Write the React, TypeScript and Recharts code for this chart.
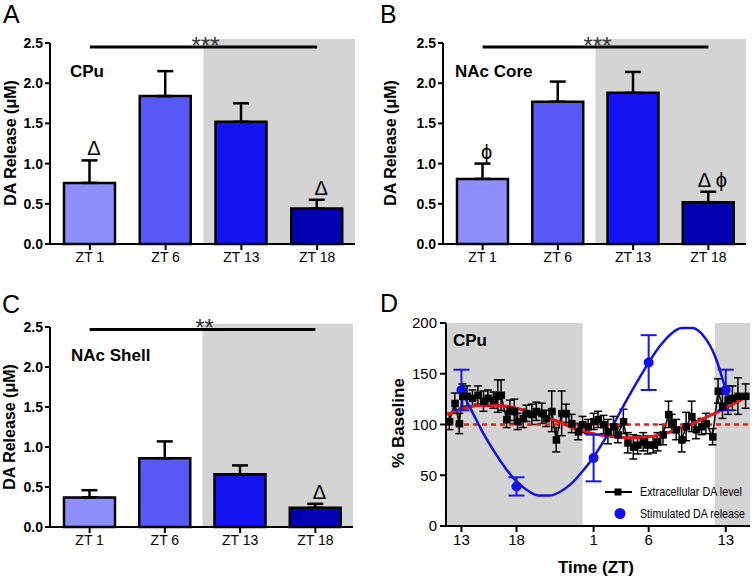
import React from 'react';
import {
  ComposedChart, Bar, Cell, XAxis, YAxis, ErrorBar, ReferenceArea, ReferenceLine, Line, Scatter,
} from 'recharts';

const FONT = '"Liberation Sans", Arial, Helvetica, sans-serif';

// ---- Panels A-C data ----
const zeitgeberCategories = ['ZT 1', 'ZT 6', 'ZT 13', 'ZT 18'];
const barColors = ['#8e8eff', '#5858f7', '#1414f2', '#0202b4'];
const barTicks = [0, 0.5, 1, 1.5, 2, 2.5];

const cpuMeans = [0.76, 1.84, 1.52, 0.44];
const cpuSem = [0.28, 0.31, 0.23, 0.11];
const cpuMarks = ['Δ', '', '', 'Δ'];
const cpuSigText = '***';
const cpuSigY = 2.45;

const coreMeans = [0.81, 1.77, 1.88, 0.52];
const coreSem = [0.19, 0.25, 0.26, 0.13];
const coreMarks = ['ϕ', '', '', 'Δ ϕ'];
const coreSigText = '***';
const coreSigY = 2.45;

const shellMeans = [0.37, 0.86, 0.66, 0.24];
const shellSem = [0.09, 0.21, 0.11, 0.05];
const shellMarks = ['', '', '', 'Δ'];
const shellSigText = '**';
const shellSigY = 2.47;

// ---- Panel D data ----
const timeTicks = [13, 18, 25, 30, 37];
const timeDomain = [11.6, 39.2];
const pctTicks = [0, 50, 100, 150, 200];

const extracellularHours = [11.9, 12.4, 12.8, 13.1, 13.5, 14.0, 14.5, 15.0, 15.4, 15.9, 16.3, 16.6, 17.1, 17.4, 17.8, 18.1, 18.6, 18.9, 19.4, 19.8, 20.3, 20.7, 21.2, 21.6, 22.1, 22.5, 23.0, 23.6, 24.0, 24.5, 25.0, 25.4, 25.9, 26.3, 26.8, 27.2, 27.7, 28.1, 28.6, 29.0, 29.5, 29.9, 30.4, 30.8, 31.3, 31.8, 32.1, 32.5, 33.0, 33.4, 33.9, 34.3, 34.8, 35.2, 35.8, 36.3, 36.7, 37.2, 37.6, 38.1, 38.8];
const extracellularPct = [103, 121, 101, 128, 128, 126, 129, 123, 126, 124, 128, 129, 105, 114, 113, 103, 106, 111, 110, 113, 111, 106, 113, 85, 111, 111, 101, 93, 100, 98, 103, 105, 100, 93, 98, 90, 103, 82, 78, 80, 83, 80, 80, 83, 90, 110, 101, 95, 85, 98, 108, 95, 98, 101, 88, 133, 118, 124, 126, 128, 128];
const extracellularSem = [8, 10, 10, 12, 10, 8, 9, 10, 8, 8, 16, 15, 8, 10, 12, 8, 9, 8, 10, 9, 10, 8, 20, 12, 22, 9, 9, 8, 8, 7, 8, 8, 9, 12, 10, 8, 12, 10, 12, 9, 9, 9, 8, 9, 10, 13, 9, 10, 12, 14, 15, 9, 8, 10, 8, 12, 12, 14, 12, 18, 12];

const extracellularFitHours = [11.7, 13, 14, 15, 16, 17, 18, 19, 20, 21, 22, 23, 24, 25, 26, 27, 28, 29, 30, 31, 32, 33, 34, 35, 36, 37, 38, 39];
const extracellularFitPct = [110, 115, 118, 119, 119, 118, 116, 113, 110, 106, 102, 97, 94, 91, 89, 88, 87, 87, 88, 90, 93, 97, 101, 106, 111, 116, 122, 128];

const stimulatedHours = [13, 18, 25, 30, 37];
const stimulatedPct = [134, 39, 67, 161, 134];
const stimulatedSem = [20, 9, 23, 27, 20];

const stimulatedFitHours = [13, 14, 15, 16, 17, 18, 19, 20, 21, 22, 23, 24, 25, 26, 27, 28, 29, 30, 31, 32, 33, 34, 35, 36, 37];
const stimulatedFitPct = [133, 112, 91, 73, 57, 44, 35, 30, 30, 34, 42, 54, 68, 85, 104, 124, 143, 161, 177, 189, 195, 195, 187, 168, 134];

// ---- helpers ----
const renderMark = (p: any) => {
  const m = p?.payload?.mark;
  if (!m || p.cx == null || p.cy == null) return <g key={`m${p?.index}`} />;
  return (
    <text key={`m${p.index}`} x={p.cx + 4} y={p.cy - 5} textAnchor="middle" fontSize={20}
      fill="#000" fontFamily={FONT}>{m}</text>
  );
};

const renderSquare = (p: any) => {
  if (p.cx == null || p.cy == null) return <g key={`s${p.index}`} />;
  return <rect key={`s${p.index}`} x={p.cx - 3.5} y={p.cy - 3.5} width={7.5} height={7.5} fill="#000" />;
};

const renderBlueDot = (p: any) => (
  <circle cx={p.cx} cy={p.cy} r={5} fill="#1010f0" />
);

type PanelPos = {
  left: number; top: number; width: number; height: number;
  mTop: number; mRight: number; yw: number; xh: number; pad: number;
};

function BarPanel(props: {
  pos: PanelPos; means: number[]; sem: number[]; marks: string[];
  sigText: string; sigY: number; shadeTop: number;
}) {
  const { pos, means, sem, marks, sigText, sigY, shadeTop } = props;
  const data = zeitgeberCategories.map((c, i) => ({
    cat: c, mean: means[i], err: [0, sem[i]], top: means[i] + sem[i], mark: marks[i],
  }));
  const sigLabel = (lp: any) => {
    const vb = lp?.viewBox || {};
    const cx = (vb.x ?? 0) + (vb.width ?? 0) / 2 + 2;
    const y = (vb.y ?? 0) + 7;
    return (
      <text x={cx} y={y} textAnchor="middle" fontSize={24} fill="#333" fontFamily={FONT}>{sigText}</text>
    );
  };
  return (
    <div style={{ position: 'absolute', left: pos.left, top: pos.top }}>
      <ComposedChart width={pos.width} height={pos.height} data={data}
        margin={{ top: pos.mTop, right: pos.mRight, bottom: 0, left: 0 }}>
        <ReferenceArea x1="ZT 13" x2="ZT 18" y1={0} y2={shadeTop} fill="#d4d4d4" fillOpacity={1}
          stroke="none" ifOverflow="visible" />
        <XAxis dataKey="cat" height={pos.xh} padding={{ left: pos.pad, right: 0 }} interval={0}
          axisLine={{ stroke: '#000', strokeWidth: 2 }} tickLine={{ stroke: '#000', strokeWidth: 2 }}
          tickSize={6} tick={{ fill: '#000', fontSize: 14, fontFamily: FONT }} />
        <YAxis width={pos.yw} domain={[0, 2.5]} ticks={barTicks} interval={0}
          tickFormatter={(v: number) => v.toFixed(1)}
          axisLine={{ stroke: '#000', strokeWidth: 2 }} tickLine={{ stroke: '#000', strokeWidth: 2 }}
          tickSize={5} tickMargin={2}
          tick={{ fill: '#000', fontSize: 14, fontWeight: 'bold', fontFamily: FONT }} />
        <Bar dataKey="mean" barSize={51} stroke="#000" strokeWidth={2.5} isAnimationActive={false}>
          {data.map((d, i) => <Cell key={d.cat} fill={barColors[i]} />)}
          <ErrorBar dataKey="err" width={8} stroke="#000" strokeWidth={2.5} direction="y" />
        </Bar>
        <Line dataKey="top" stroke="none" isAnimationActive={false} dot={renderMark}
          activeDot={false} legendType="none" />
        <ReferenceLine segment={[{ x: 'ZT 1', y: sigY }, { x: 'ZT 18', y: sigY }]} stroke="#000"
          strokeWidth={3} ifOverflow="visible" label={sigLabel} />
      </ComposedChart>
    </div>
  );
}

function TimePanel() {
  const extraData = extracellularHours.map((h, i) => ({ h, v: extracellularPct[i], e: extracellularSem[i] }));
  const extraFit = extracellularFitHours.map((h, i) => ({ h, v: extracellularFitPct[i] }));
  const stimData = stimulatedHours.map((h, i) => ({ h, v: stimulatedPct[i], e: stimulatedSem[i] }));
  const stimFit = stimulatedFitHours.map((h, i) => ({ h, v: stimulatedFitPct[i] }));
  return (
    <div style={{ position: 'absolute', left: 378, top: 290 }}>
      <ComposedChart width={377} height={287} margin={{ top: 33, right: 5, bottom: 0, left: 0 }}>
        <ReferenceArea x1={timeDomain[0]} x2={24} y1={0} y2={200} fill="#d4d4d4" fillOpacity={1} stroke="none" />
        <ReferenceArea x1={36} x2={timeDomain[1]} y1={0} y2={200} fill="#d4d4d4" fillOpacity={1} stroke="none" />
        <XAxis type="number" dataKey="h" domain={timeDomain} ticks={timeTicks} allowDataOverflow
          interval={0} tickFormatter={(h: number) => String(h > 24 ? h - 24 : h)} height={51}
          axisLine={{ stroke: '#000', strokeWidth: 2 }} tickLine={{ stroke: '#000', strokeWidth: 2 }}
          tickSize={6} tick={{ fill: '#000', fontSize: 15, fontFamily: FONT }} />
        <YAxis type="number" dataKey="v" domain={[0, 200]} ticks={pctTicks} width={68} interval={0}
          axisLine={{ stroke: '#000', strokeWidth: 2 }} tickLine={{ stroke: '#000', strokeWidth: 2 }}
          tickSize={6} tickMargin={3} tick={{ fill: '#000', fontSize: 15, fontFamily: FONT }} />
        <Line data={extraData} dataKey="v" type="linear" stroke="#000" strokeWidth={1.5}
          dot={renderSquare} activeDot={false} isAnimationActive={false}>
          <ErrorBar dataKey="e" width={4} stroke="#000" strokeWidth={1.5} direction="y" />
        </Line>
        <ReferenceLine y={100} stroke="#ee1c1c" strokeWidth={2.5} strokeDasharray="5 4" />
        <Line data={extraFit} dataKey="v" type="monotone" stroke="#e8141c" strokeWidth={3}
          dot={false} activeDot={false} isAnimationActive={false} />
        <Line data={stimFit} dataKey="v" type="monotone" stroke="#1010ee" strokeWidth={2.5}
          dot={false} activeDot={false} isAnimationActive={false} />
        <Scatter data={stimData} dataKey="v" shape={renderBlueDot} isAnimationActive={false}>
          <ErrorBar dataKey="e" width={8} stroke="#1515ee" strokeWidth={2} direction="y" />
        </Scatter>
      </ComposedChart>
    </div>
  );
}

const posA: PanelPos = { left: 0, top: 0, width: 378, height: 290, mTop: 43, mRight: 23, yw: 50, xh: 46, pad: 2 };
const posB: PanelPos = { left: 378, top: 0, width: 377, height: 290, mTop: 43, mRight: 9, yw: 65, xh: 46, pad: 2 };
const posC: PanelPos = { left: 0, top: 290, width: 378, height: 287, mTop: 37, mRight: 25, yw: 50, xh: 50, pad: 2 };

function Overlay() {
  const bold = { fontFamily: FONT, fontWeight: 'bold' as const, fill: '#000' };
  const letter = { fontFamily: FONT, fontSize: 25, fill: '#000' };
  return (
    <svg width={755} height={577} style={{ position: 'absolute', left: 0, top: 0, pointerEvents: 'none' }}>
      <text x={3} y={23} {...letter}>A</text>
      <text x={380} y={23} {...letter}>B</text>
      <text x={2} y={313} {...letter}>C</text>
      <text x={380} y={312} {...letter}>D</text>

      <text x={70} y={77} fontSize={17} {...bold}>CPu</text>
      <text x={455} y={77} fontSize={17} {...bold}>NAc Core</text>
      <text x={71} y={361} fontSize={17} {...bold}>NAc Shell</text>
      <text x={453} y={346} fontSize={17} {...bold}>CPu</text>

      <text transform="translate(16,143) rotate(-90)" textAnchor="middle" fontSize={16} {...bold}>DA Release (μM)</text>
      <text transform="translate(396,143) rotate(-90)" textAnchor="middle" fontSize={16} {...bold}>DA Release (μM)</text>
      <text transform="translate(15,427) rotate(-90)" textAnchor="middle" fontSize={16} {...bold}>DA Release (μM)</text>
      <text transform="translate(404,423) rotate(-90)" textAnchor="middle" fontSize={17} {...bold}>% Baseline</text>
      <text x={596} y={573} textAnchor="middle" fontSize={17} {...bold} textLength={76} lengthAdjust="spacingAndGlyphs">Time  (ZT)</text>

      <line x1={605} y1={492} x2={632} y2={492} stroke="#000" strokeWidth={2} />
      <rect x={614.5} y={488.5} width={7} height={7} fill="#000" />
      <text x={640} y={496} fontSize={12} fontFamily={FONT} fill="#000" textLength={102} lengthAdjust="spacingAndGlyphs">Extracellular DA level</text>
      <circle cx={620} cy={513.5} r={5.5} fill="#1010f0" />
      <text x={640} y={518} fontSize={12} fontFamily={FONT} fill="#000" textLength={105} lengthAdjust="spacingAndGlyphs">Stimulated DA release</text>
    </svg>
  );
}

export default function App() {
  return (
    <div style={{ position: 'absolute', left: 0, top: 0, width: 755, height: 577, background: '#fff', overflow: 'hidden' }}>
      <BarPanel pos={posA} means={cpuMeans} sem={cpuSem} marks={cpuMarks} sigText={cpuSigText} sigY={cpuSigY} shadeTop={2.55} />
      <BarPanel pos={posB} means={coreMeans} sem={coreSem} marks={coreMarks} sigText={coreSigText} sigY={coreSigY} shadeTop={2.55} />
      <BarPanel pos={posC} means={shellMeans} sem={shellSem} marks={shellMarks} sigText={shellSigText} sigY={shellSigY} shadeTop={2.54} />
      <TimePanel />
      <Overlay />
    </div>
  );
}
